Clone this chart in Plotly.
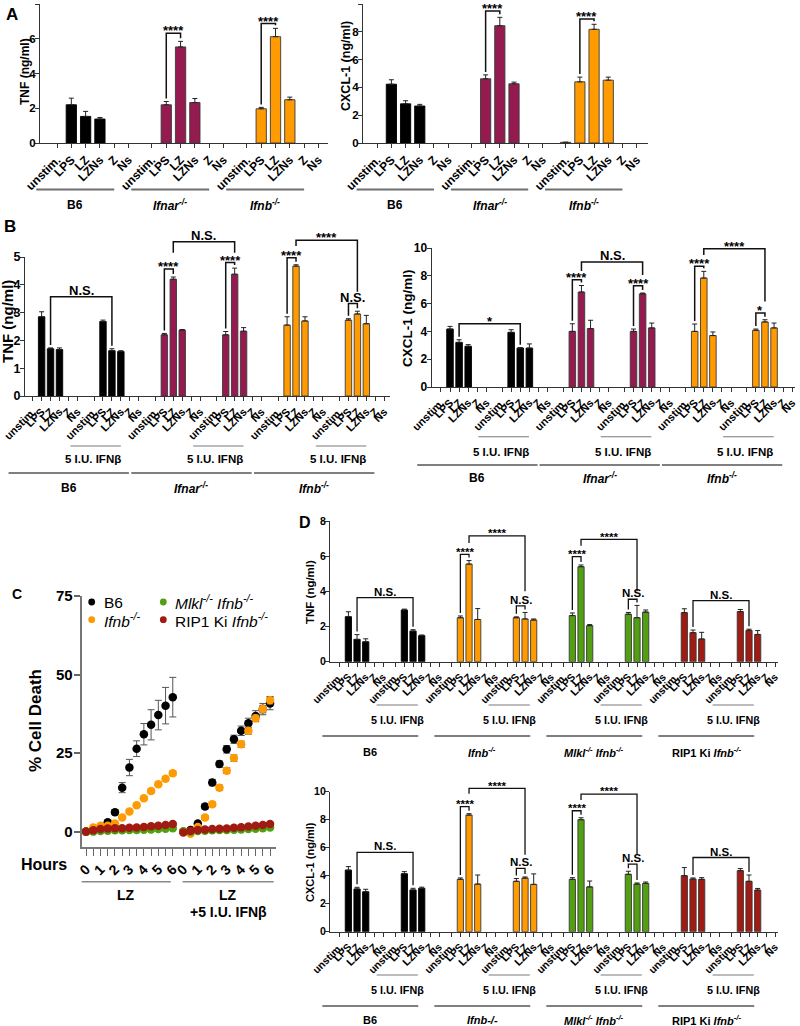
import plotly.graph_objects as go

W, H = 800, 1026
FF = "Liberation Sans, Arial, Helvetica, sans-serif"

CATS = ["unstim.", "LPS", "LZ", "LZNs", "Z", "Ns"]
IFN_TEXT = "5 I.U. IFNβ"

BLACK, MAROON, ORANGE, GREEN, DRED = "#000000", "#951A50", "#FF9A00", "#52A012", "#A01B12"

# ---------------- Panel A : groups B6, Ifnar-/-, Ifnb-/-
A_GROUPS = ["B6", "<i>Ifnar<sup>-/-</sup></i>", "<i>Ifnb<sup>-/-</sup></i>"]
A_COLORS = [BLACK, MAROON, ORANGE]
A_TNF = [
    [0, 2.20, 1.53, 1.38, 0, 0],
    [0, 2.20, 5.53, 2.33, 0, 0],
    [0, 1.97, 6.12, 2.49, 0, 0],
]
A_TNF_ERR = [
    [0, 0.38, 0.29, 0.09, 0, 0],
    [0, 0.19, 0.32, 0.23, 0, 0],
    [0, 0.08, 0.48, 0.15, 0, 0],
]
A_TNF_SIG = [(7, 8, 6.31, "****", None, None), (13, 14, 6.88, "****", None, None)]
A_CXCL = [
    [0, 4.23, 2.82, 2.66, 0, 0],
    [0, 4.62, 8.44, 4.26, 0, 0],
    [0.05, 4.40, 8.18, 4.52, 0, 0],
]
A_CXCL_ERR = [
    [0, 0.32, 0.22, 0.12, 0, 0],
    [0, 0.28, 0.60, 0.12, 0, 0],
    [0, 0.34, 0.36, 0.22, 0, 0],
]
A_CXCL_SIG = [(7, 8, 9.50, "****", None, None), (13, 14, 8.92, "****", None, None)]

# ---------------- Panel B : each genotype without / with 5 I.U. IFNb
B_GROUPS = A_GROUPS
B_COLORS = [BLACK, BLACK, MAROON, MAROON, ORANGE, ORANGE]
B_TNF = [
    [0, 2.85, 1.70, 1.67, 0, 0],
    [0, 2.68, 1.63, 1.60, 0, 0],
    [0, 2.20, 4.20, 2.37, 0, 0],
    [0, 2.20, 4.38, 2.33, 0, 0],
    [0, 2.55, 4.67, 2.70, 0, 0],
    [0, 2.73, 2.95, 2.60, 0, 0],
]
B_TNF_ERR = [
    [0, 0.18, 0.03, 0.06, 0, 0],
    [0, 0.05, 0.07, 0.03, 0, 0],
    [0, 0.05, 0.08, 0.02, 0, 0],
    [0, 0.12, 0.22, 0.13, 0, 0],
    [0, 0.30, 0.05, 0.15, 0, 0],
    [0, 0.05, 0.10, 0.30, 0, 0],
]
B_TNF_SIG = [
    (2, 8, 3.57, "N.S.", None, None),
    (13, 14, 4.57, "****", None, None),
    (19, 20, 4.80, "****", None, None),
    (14, 20, 5.55, "N.S.", 5.15, 5.15),
    (25, 26, 4.97, "****", None, None),
    (26, 32, 5.60, "****", 5.40, 3.75),
    (31, 32, 3.33, "N.S.", None, None),
]
B_CXCL = [
    [0, 4.17, 3.21, 2.93, 0, 0],
    [0, 3.93, 2.80, 2.80, 0, 0],
    [0, 4.00, 6.83, 4.20, 0, 0],
    [0, 4.00, 6.70, 4.25, 0, 0],
    [0, 4.00, 7.84, 3.70, 0, 0],
    [0, 4.08, 4.68, 4.25, 0, 0],
]
B_CXCL_ERR = [
    [0, 0.19, 0.19, 0.12, 0, 0],
    [0, 0.19, 0.03, 0.30, 0, 0],
    [0, 0.55, 0.47, 0.60, 0, 0],
    [0, 0.17, 0.06, 0.35, 0, 0],
    [0, 0.53, 0.48, 0.26, 0, 0],
    [0, 0.09, 0.16, 0.35, 0, 0],
]
B_CXCL_SIG = [
    (2, 8, 4.55, "*", None, None),
    (13, 14, 7.72, "****", None, None),
    (19, 20, 7.29, "****", None, None),
    (14, 20, 9.00, "N.S.", 8.35, 8.05),
    (25, 26, 8.68, "****", None, None),
    (26, 32, 9.95, "****", 9.50, 6.15),
    (31, 32, 5.32, "*", None, None),
]

# ---------------- Panel C : % cell death over time
HOURS = [0, 0.5, 1, 1.5, 2, 2.5, 3, 3.5, 4, 4.5, 5, 5.5, 6]
HOUR_LABELS = ["0", "1", "2", "3", "4", "5", "6"]
C_NAMES = ["B6", "<i>Ifnb<sup>-/-</sup></i>", "<i>Mlkl<sup>-/-</sup> Ifnb<sup>-/-</sup></i>",
           "RIP1 Ki <i>Ifnb<sup>-/-</sup></i>"]
C_COLORS = [BLACK, ORANGE, GREEN, DRED]
C_LZ = [
    [0, 0.5, 1.2, 3.0, 6.2, 14.0, 20.4, 26.4, 31.0, 34.0, 37.1, 40.1, 42.8],
    [0, 1.3, 1.9, 1.9, 2.6, 4.5, 6.4, 8.4, 10.6, 12.9, 15.1, 16.8, 18.6],
    [0, 0.0, 0.2, 0.3, 0.4, 0.4, 0.5, 0.5, 0.6, 0.7, 0.8, 0.9, 1.1],
    [0, 0.4, 0.8, 1.0, 1.1, 1.1, 1.2, 1.3, 1.5, 1.7, 1.9, 2.1, 2.4],
]
C_LZ_ERR = [
    [0.2, 0.3, 0.4, 0.6, 0.8, 1.6, 2.6, 2.5, 3.4, 4.8, 4.7, 5.8, 6.3],
    [0.2, 0.3, 0.3, 0.3, 0.4, 0.4, 0.5, 0.5, 0.5, 0.6, 0.6, 0.6, 0.7],
    [0.1, 0.1, 0.1, 0.1, 0.1, 0.1, 0.1, 0.1, 0.2, 0.2, 0.2, 0.2, 0.2],
    [0.1, 0.1, 0.1, 0.1, 0.2, 0.2, 0.2, 0.2, 0.2, 0.3, 0.3, 0.3, 0.3],
]
C_LZ_IFN = [
    [0, 0.5, 2.6, 8.0, 15.6, 21.5, 26.2, 29.4, 32.1, 34.5, 36.8, 39.0, 40.8],
    [0, -0.7, 1.5, 4.5, 8.7, 14.0, 19.4, 23.4, 27.8, 32.1, 36.1, 39.0, 41.8],
    [0, 0.0, 0.2, 0.3, 0.4, 0.5, 0.5, 0.6, 0.7, 0.8, 0.9, 1.1, 1.3],
    [-0.3, 0.2, 0.5, 0.7, 0.8, 0.9, 1.0, 1.2, 1.4, 1.6, 1.9, 2.1, 2.4],
]
C_LZ_IFN_ERR = [
    [0.2, 0.3, 0.5, 0.8, 1.0, 1.0, 1.2, 1.3, 1.5, 1.6, 1.7, 1.8, 2.0],
    [0.2, 0.3, 0.4, 0.6, 0.7, 0.8, 0.9, 1.0, 1.0, 1.1, 1.1, 1.2, 1.2],
    [0.1, 0.1, 0.1, 0.1, 0.1, 0.1, 0.1, 0.1, 0.2, 0.2, 0.2, 0.2, 0.2],
    [0.1, 0.1, 0.1, 0.1, 0.2, 0.2, 0.2, 0.2, 0.2, 0.3, 0.3, 0.3, 0.3],
]

# ---------------- Panel D : four genotypes without / with 5 I.U. IFNb
D_GROUPS = ["B6", "<i>Ifnb<sup>-/-</sup></i>", "<i>Mlkl<sup>-/-</sup> Ifnb<sup>-/-</sup></i>",
            "RIP1 Ki <i>Ifnb<sup>-/-</sup></i>"]
D_GROUPS_BOTTOM = ["B6", "<i>Ifnb-/-</i>", "<i>Mlkl<sup>-/-</sup> Ifnb<sup>-/-</sup></i>",
                   "RIP1 Ki <i>Ifnb<sup>-/-</sup></i>"]
D_COLORS = [BLACK, BLACK, ORANGE, ORANGE, GREEN, GREEN, DRED, DRED]
D_TNF = [
    [0, 2.56, 1.27, 1.13, 0, 0],
    [0, 2.94, 1.74, 1.48, 0, 0],
    [0, 2.50, 5.55, 2.40, 0, 0],
    [0, 2.50, 2.43, 2.37, 0, 0],
    [0, 2.62, 5.40, 2.05, 0, 0],
    [0, 2.70, 2.50, 2.82, 0, 0],
    [0, 2.79, 1.65, 1.29, 0, 0],
    [0, 2.85, 1.78, 1.55, 0, 0],
]
D_TNF_ERR = [
    [0, 0.28, 0.27, 0.17, 0, 0],
    [0, 0.05, 0.08, 0.04, 0, 0],
    [0, 0.10, 0.20, 0.62, 0, 0],
    [0, 0.05, 0.37, 0.06, 0, 0],
    [0, 0.15, 0.10, 0.06, 0, 0],
    [0, 0.10, 0.70, 0.12, 0, 0],
    [0, 0.22, 0.15, 0.38, 0, 0],
    [0, 0.12, 0.07, 0.22, 0, 0],
]
D_TNF_SIG = [
    (2, 8, 3.64, "N.S.", None, None),
    (13, 14, 6.10, "****", None, None),
    (14, 20, 7.15, "****", 6.75, 4.00),
    (19, 20, 3.17, "N.S.", None, None),
    (25, 26, 5.97, "****", None, None),
    (26, 32, 6.96, "****", 6.60, 4.00),
    (31, 32, 3.55, "N.S.", None, None),
    (38, 44, 3.47, "N.S.", None, None),
]
D_CXCL = [
    [0, 4.40, 3.05, 2.85, 0, 0],
    [0, 4.14, 2.98, 3.10, 0, 0],
    [0, 3.74, 8.33, 3.40, 0, 0],
    [0, 3.60, 3.83, 3.38, 0, 0],
    [0, 3.74, 8.00, 3.20, 0, 0],
    [0, 4.10, 3.40, 3.45, 0, 0],
    [0, 4.00, 3.76, 3.74, 0, 0],
    [0, 4.36, 3.60, 2.97, 0, 0],
]
D_CXCL_ERR = [
    [0, 0.25, 0.12, 0.18, 0, 0],
    [0, 0.15, 0.12, 0.08, 0, 0],
    [0, 0.10, 0.10, 0.65, 0, 0],
    [0, 0.20, 0.08, 0.75, 0, 0],
    [0, 0.12, 0.14, 0.42, 0, 0],
    [0, 0.22, 0.08, 0.10, 0, 0],
    [0, 0.58, 0.08, 0.12, 0, 0],
    [0, 0.15, 0.45, 0.12, 0, 0],
]
D_CXCL_SIG = [
    (2, 8, 5.67, "N.S.", None, None),
    (13, 14, 8.93, "****", None, None),
    (14, 20, 10.24, "****", 9.85, 5.50),
    (19, 20, 4.52, "N.S.", None, None),
    (25, 26, 8.64, "****", None, None),
    (26, 32, 9.83, "****", 9.40, 5.50),
    (31, 32, 4.83, "N.S.", None, None),
    (38, 44, 5.30, "N.S.", None, None),
]

# ======================================================================
fig = go.Figure()
shapes, annots = [], []


def P(px, py):
    return px / W, 1 - py / H


def gx(g, v):
    return g["left"] + (v - g["r0"]) / (g["r1"] - g["r0"]) * (g["right"] - g["left"])


def gy(g, v):
    return g["ybot"] - (v - g["ymin"]) / (g["ymax"] - g["ymin"]) * (g["ybot"] - g["ytop"])


def hline(x0, x1, y, color="#666", w=1.0):
    a, b = P(x0, y)
    c, _ = P(x1, y)
    shapes.append(dict(type="line", xref="paper", yref="paper", x0=a, x1=c, y0=b, y1=b,
                       line=dict(color=color, width=w)))


def path(pts, color="#111", w=1.4):
    s = ""
    for k, (x, y) in enumerate(pts):
        a, b = P(x, y)
        s += ("M" if k == 0 else "L") + f"{a:.5f},{b:.5f} "
    shapes.append(dict(type="path", xref="paper", yref="paper", path=s.strip(),
                       line=dict(color=color, width=w)))


def text(x, y, s, size, weight="bold", xanchor="center", yanchor="middle", angle=0, color="#000"):
    a, b = P(x, y)
    annots.append(dict(xref="paper", yref="paper", x=a, y=b, text=s, showarrow=False,
                       font=dict(family=FF, size=size, color=color, weight=weight),
                       xanchor=xanchor, yanchor=yanchor, textangle=angle, borderpad=0))


def axnames(n):
    return ("xaxis" if n == 1 else f"xaxis{n}", "yaxis" if n == 1 else f"yaxis{n}",
            "x" if n == 1 else f"x{n}", "y" if n == 1 else f"y{n}")


layout_axes = {}


def bar_panel(n, g, vals, errs, colors, S, sigs, ystep, tick_size, ytick_size,
              sig_size, lw=1.4):
    xk, yk, xr, yr = axnames(n)
    xs, ys, es, cs, lc, tt = [], [], [], [], [], []
    flat_v, flat_e = [], []
    for s, (row, erow) in enumerate(zip(vals, errs)):
        for i, (v, e) in enumerate(zip(row, erow)):
            xs.append(s * S + i)
            ys.append(v if v != 0 else None)
            es.append(e if v != 0 else None)
            cs.append(colors[s])
            lc.append("#000" if colors[s] == BLACK else "#3a3a3a")
            tt.append(CATS[i])
            flat_v.append(v)
            flat_e.append(e)
    fig.add_trace(go.Bar(x=xs, y=ys, width=0.72, xaxis=xr, yaxis=yr, showlegend=False,
                         marker=dict(color=cs, line=dict(color=lc, width=0.9)),
                         error_y=dict(type="data", array=es, arrayminus=[0] * len(es),
                                      symmetric=False, color="#222", thickness=1, width=2.5)))
    layout_axes[xk] = dict(domain=[g["left"] / W, g["right"] / W], range=[g["r0"], g["r1"]],
                           anchor=yr, tickvals=xs, ticktext=tt, tickangle=-45,
                           ticks="outside", ticklen=4, tickwidth=1.1, tickcolor="#333",
                           showline=True, linecolor="#333", linewidth=1.3, showgrid=False,
                           zeroline=False, automargin=False,
                           tickfont=dict(family=FF, size=tick_size, color="#000", weight="bold"))
    tv = []
    v = 0
    while v <= g["ymax"] + 1e-9:
        tv.append(v)
        v += ystep
    layout_axes[yk] = dict(domain=[1 - g["ybot"] / H, 1 - g["ytop"] / H],
                           range=[g["ymin"], g["ymax"]], anchor=xr, tickvals=tv,
                           ticks="outside", ticklen=4, tickwidth=1.1, tickcolor="#333",
                           ticklabelstandoff=-3,
                           showline=True, linecolor="#333", linewidth=1.3, showgrid=False,
                           zeroline=False, automargin=False,
                           tickfont=dict(family=FF, size=ytick_size, color="#000", weight="bold"))
    # significance brackets
    for a, b, top, lab, la, lb in sigs:
        xa, xb = gx(g, xs[a]), gx(g, xs[b])
        yt = gy(g, top)
        ya = gy(g, la) if la is not None else gy(g, flat_v[a] + flat_e[a]) - 3
        yb = gy(g, lb) if lb is not None else gy(g, flat_v[b] + flat_e[b]) - 3
        path([(xa, ya), (xa, yt), (xb, yt), (xb, yb)], w=lw)
        if "*" in lab and "N" not in lab:
            text((xa + xb) / 2, yt - 5 + 0.2 * sig_size, lab, sig_size)
        else:
            text((xa + xb) / 2, yt - 6, lab, sig_size)
    return xs


# ---------------- geometry (pixels)
GA_L = dict(left=40, right=328, r0=-1.19, r1=18.95, ybot=143, ytop=4, ymin=0, ymax=8)
GA_R = dict(left=363, right=648, r0=-1.0, r1=19.08, ybot=143, ytop=4, ymin=0, ymax=10)
GB_L = dict(left=25, right=390, r0=-0.86, r1=40.0, ybot=396, ytop=257, ymin=0, ymax=5)
GB_R = dict(left=431.7, right=795, r0=-1.01, r1=38.9, ybot=387, ytop=248, ymin=0, ymax=10)
GD_T = dict(left=330, right=778.3, r0=-1.12, r1=50.6, ybot=661.7, ytop=521, ymin=0, ymax=8)
GD_B = dict(left=330, right=778.3, r0=-1.12, r1=50.6, ybot=931.7, ytop=791.7, ymin=0, ymax=10)
GC = dict(left=81.7, right=276, r0=-0.3, r1=13.14, ybot=846.7, ytop=596, ymin=-4.8, ymax=75)
SA, SB_L, SB_R, SD = 6.64, 6.87, 6.72, 6.46

bar_panel(1, GA_L, A_TNF, A_TNF_ERR, A_COLORS, SA, A_TNF_SIG, 2, 12, 11.5, 13, 1.5)
bar_panel(2, GA_R, A_CXCL, A_CXCL_ERR, A_COLORS, SA, A_CXCL_SIG, 2, 12, 11.5, 13, 1.5)
bar_panel(3, GB_L, B_TNF, B_TNF_ERR, B_COLORS, SB_L, B_TNF_SIG, 1, 11, 12.5, 13, 1.5)
bar_panel(4, GB_R, B_CXCL, B_CXCL_ERR, B_COLORS, SB_R, B_CXCL_SIG, 2, 11, 12, 13, 1.5)
bar_panel(6, GD_T, D_TNF, D_TNF_ERR, D_COLORS, SD, D_TNF_SIG, 2, 10.5, 10.5, 11.5, 1.3)
bar_panel(7, GD_B, D_CXCL, D_CXCL_ERR, D_COLORS, SD, D_CXCL_SIG, 2, 10.5, 10.5, 11.5, 1.3)

# group lines / labels, panel A
for g in (GA_L, GA_R):
    for k, lab in enumerate(A_GROUPS):
        x0, x1 = gx(g, k * SA - 1.45), gx(g, k * SA + 4.0)
        hline(x0, x1, 189.5, "#6e6e6e", 2)
        text((x0 + x1) / 2, 205, lab, 12)


def sub_groups(g, S, labels, sub_y, sub_ty, maj_y, lab_y, sub_ab, maj_ab, tsize, lsize, tshift):
    for k, lab in enumerate(labels):
        s0, s1 = 2 * k, 2 * k + 1
        a, b = gx(g, s1 * S + sub_ab[0]), gx(g, s1 * S + sub_ab[1])
        hline(a, b, sub_y, "#7a7a7a", 1.1)
        text((a + b) / 2 + tshift, sub_ty, IFN_TEXT, tsize)
        c, d = gx(g, s0 * S + maj_ab[0]), gx(g, s1 * S + maj_ab[1])
        hline(c, d, maj_y, "#555", 1.3)
        text((c + d) / 2, lab_y, lab, lsize)


sub_groups(GB_L, SB_L, B_GROUPS, 446, 458.5, 473, 488, (-2.65, 3.0), (-2.7, 3.9), 11.5, 12, -3)
sub_groups(GB_R, SB_R, B_GROUPS, 436.7, 451.7, 465, 478.3, (-2.6, 2.96), (-2.6, 3.9), 11.5, 12, -3)
sub_groups(GD_T, SD, D_GROUPS, 705, 720, 736, 752, (-2.2, 2.55), (-2.0, 2.6), 10.8, 11, 0)
sub_groups(GD_B, SD, D_GROUPS_BOTTOM, 975, 990, 1006, 1020, (-2.2, 2.55), (-2.0, 2.6), 10.8, 11, 0)

# y-axis titles
text(25, 72, "TNF (ng/ml)", 12, angle=-90)
text(346, 66, "CXCL-1 (ng/ml)", 12.5, angle=-90)
text(7, 322, "TNF (ng/ml)", 15, angle=-90)
text(408, 318, "CXCL-1 (ng/ml)", 13.5, angle=-90)
text(310, 592, "TNF (ng/ml)", 11.5, angle=-90)
text(310, 862, "CXCL-1 (ng/ml)", 11, angle=-90)
text(35, 721, "% Cell Death", 17, angle=-90)

# panel letters
text(12, 15, "A", 17)
text(10, 226, "B", 17)
text(17, 594, "C", 14)
text(305, 522, "D", 16)

# ---------------- Panel C
GAP_C = 6.73
cx = HOURS + [h + GAP_C for h in HOURS]
for k in range(4):
    fig.add_trace(go.Scatter(
        x=cx, y=C_LZ[k] + C_LZ_IFN[k], mode="markers", xaxis="x5", yaxis="y5", showlegend=False,
        marker=dict(color=C_COLORS[k], size=8.5, line=dict(width=0)),
        error_y=dict(type="data", array=C_LZ_ERR[k] + C_LZ_IFN_ERR[k], color="#555",
                     thickness=1, width=3.5)))
major_vals = [h for h in cx if abs(h - round(h - (GAP_C if h > 6.5 else 0)) - (GAP_C if h > 6.5 else 0)) < 1e-9]
minor_vals = [h for h in cx if h not in major_vals]
layout_axes["xaxis5"] = dict(domain=[GC["left"] / W, GC["right"] / W], range=[GC["r0"], GC["r1"]],
                             anchor="y5", tickvals=major_vals, ticktext=HOUR_LABELS * 2,
                             tickangle=-45,
                             ticks="outside", ticklen=7, tickwidth=1.3, tickcolor="#666",
                             minor=dict(tickvals=minor_vals, ticks="outside", ticklen=7,
                                        tickwidth=1.3, tickcolor="#666", showgrid=False),
                             showline=True, linecolor="#777", linewidth=2, showgrid=False,
                             zeroline=False, automargin=False,
                             tickfont=dict(family=FF, size=14, color="#000", weight="bold"))
layout_axes["yaxis5"] = dict(domain=[1 - GC["ybot"] / H, 1 - GC["ytop"] / H],
                             range=[GC["ymin"], GC["ymax"]], anchor="x5", tickvals=[0, 25, 50, 75],
                             ticks="outside", ticklen=6, tickwidth=1.5, tickcolor="#666",
                             ticklabelstandoff=-2,
                             showline=True, linecolor="#777", linewidth=2, showgrid=False,
                             zeroline=False, automargin=False,
                             tickfont=dict(family=FF, size=15, color="#000", weight="bold"))
text(44, 864, "Hours", 16)
a, b = gx(GC, -0.3), gx(GC, 5.86)
hline(a, b, 881.7, "#888", 1.5)
text((a + b) / 2, 895, "LZ", 14)
c, d = gx(GC, GAP_C - 0.05), gx(GC, GAP_C + 6.25)
hline(c, d, 881.7, "#888", 1.5)
text((c + d) / 2, 895, "LZ", 14)
text((c + d) / 2, 912, "+5 I.U. IFNβ", 14)

# legend of panel C
leg_pos = [(91.7, 602), (91.7, 619.7), (163.3, 602), (163.3, 619.7)]
for (lx, ly), name, col in zip(leg_pos, C_NAMES, C_COLORS):
    r = 3.4
    shapes.append(dict(type="circle", xref="paper", yref="paper",
                       x0=(lx - r) / W, x1=(lx + r) / W, y0=1 - (ly + r) / H, y1=1 - (ly - r) / H,
                       fillcolor=col, line=dict(width=0)))
    text(lx + 11, ly, name, 15.5, weight="normal", xanchor="left")

fig.update_layout(width=W, height=H,
                  margin=dict(l=0, r=0, t=0, b=0, pad=0, autoexpand=False),
                  paper_bgcolor="white", plot_bgcolor="white",
                  font=dict(family=FF, color="#000", weight="bold"),
                  shapes=shapes, annotations=annots, showlegend=False, **layout_axes)
fig.write_html("out.html", config={"displayModeBar": False},
               post_script="document.body.style.margin='0px';")
